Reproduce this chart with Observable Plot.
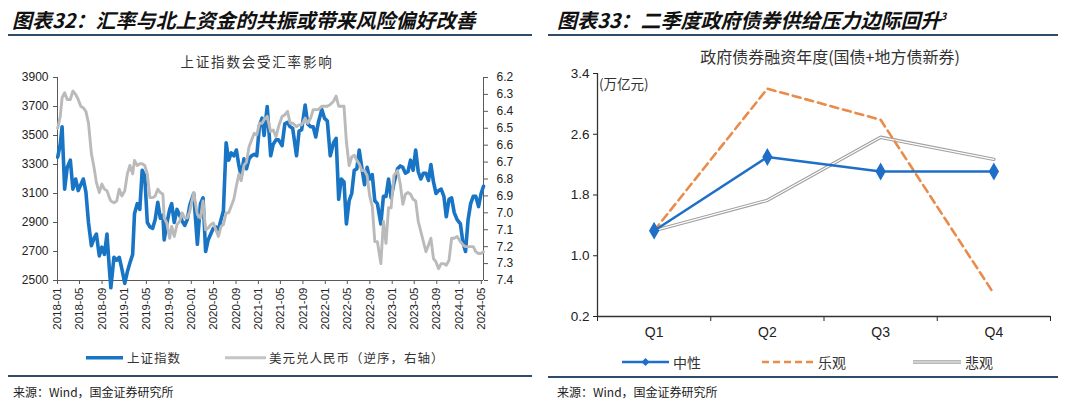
<!DOCTYPE html>
<html><head><meta charset="utf-8">
<script src="https://cdn.jsdelivr.net/npm/d3@7"></script>
<script src="https://cdn.jsdelivr.net/npm/@observablehq/plot@0.6"></script>
<style>
html,body{margin:0;padding:0;background:#fff;}
body{width:1080px;height:405px;position:relative;overflow:hidden;font-family:"Noto Sans CJK SC","Noto Sans",sans-serif;color:#222;}
.abs{position:absolute;white-space:nowrap;line-height:1;}
.title{font-size:20px;font-weight:700;font-style:italic;color:#111;transform:translateY(-50%);}
.rule{position:absolute;height:1.6px;background:#2e4b67;}
.sub{transform:translate(-50%,-50%);color:#333;}
.leg{font-size:12.5px;color:#333;transform:translateY(-50%);display:flex;align-items:center;}
.src{font-size:12px;color:#222;transform:translateY(-50%);}
</style></head><body>

<div class="abs title" style="left:12px;top:20px;">图表32：汇率与北上资金的共振或带来风险偏好改善</div>
<div class="rule" style="left:8px;top:34px;width:524px;"></div>
<div class="abs sub" style="left:257px;top:62px;font-size:13.5px;letter-spacing:1.8px;">上证指数会受汇率影响</div>

<div class="abs title" style="left:557px;top:20px;">图表33：二季度政府债券供给压力边际回升<sup style="font-size:10px;">3</sup></div>
<div class="rule" style="left:548px;top:34px;width:510px;"></div>
<div class="abs sub" style="left:830px;top:56px;font-size:16px;">政府债券融资年度(国债+地方债新券)</div>

<div id="c1"></div>
<div id="c2"></div>

<div class="abs" style="left:599px;top:84px;font-size:13.5px;color:#333;transform:translateY(-50%);">(万亿元)</div>

<div class="abs leg" style="left:86px;top:358px;">
  <svg width="38" height="6"><line x1="0" y1="3" x2="37" y2="3" stroke="#1874c4" stroke-width="3.4"/></svg>
  <span style="margin-left:3px;letter-spacing:1px;">上证指数</span>
</div>
<div class="abs leg" style="left:225px;top:358px;">
  <svg width="42" height="6"><line x1="0" y1="3" x2="41" y2="3" stroke="#c4c4c4" stroke-width="2.8"/></svg>
  <span style="margin-left:2px;letter-spacing:1px;">美元兑人民币（逆序，右轴）</span>
</div>

<div class="abs leg" style="left:622px;top:362px;font-size:14px;">
  <svg width="48" height="10"><line x1="0" y1="5" x2="47" y2="5" stroke="#1f6fc8" stroke-width="2.5"/><path d="M23.5,1 L27.5,5 L23.5,9 L19.5,5 Z" fill="#1f6fc8"/></svg>
  <span style="margin-left:3px;">中性</span>
</div>
<div class="abs leg" style="left:762px;top:362px;font-size:14px;">
  <svg width="54" height="10"><line x1="0" y1="5" x2="53" y2="5" stroke="#e98b4a" stroke-width="2.5" stroke-dasharray="7,4"/></svg>
  <span style="margin-left:2px;">乐观</span>
</div>
<div class="abs leg" style="left:913px;top:362px;font-size:14px;">
  <svg width="49" height="10"><line x1="0" y1="5" x2="48" y2="5" stroke="#a0a0a0" stroke-width="3.4"/><line x1="0" y1="5" x2="48" y2="5" stroke="#fff" stroke-width="1.2"/></svg>
  <span style="margin-left:3px;">悲观</span>
</div>

<div class="rule" style="left:8px;top:375px;width:524px;"></div>
<div class="rule" style="left:548px;top:376px;width:510px;"></div>
<div class="abs src" style="left:13px;top:392px;">来源：Wind，国金证券研究所</div>
<div class="abs src" style="left:557px;top:392px;">来源：Wind，国金证券研究所</div>

<script>
// ---------- Left chart data: 上证指数 vs 美元兑人民币 ----------
const dates = [
"2018-01-02","2018-01-16","2018-01-26","2018-02-09","2018-02-23","2018-03-12","2018-03-26","2018-04-10","2018-04-24","2018-05-08","2018-05-22","2018-06-05","2018-06-19","2018-07-05","2018-07-19","2018-08-01","2018-08-17","2018-08-31","2018-09-14","2018-09-28","2018-10-11","2018-10-19","2018-11-05","2018-11-20","2018-12-04","2018-12-18",
"2019-01-03","2019-01-17","2019-01-31","2019-02-15","2019-02-25","2019-03-12","2019-03-26","2019-04-08","2019-04-22","2019-05-06","2019-05-20","2019-06-04","2019-06-18","2019-07-02","2019-07-16","2019-07-30","2019-08-06","2019-08-20","2019-09-05","2019-09-16","2019-09-30","2019-10-15","2019-10-29","2019-11-12","2019-11-26","2019-12-10","2019-12-24",
"2020-01-14","2020-02-03","2020-02-20","2020-03-05","2020-03-19","2020-04-02","2020-04-16","2020-04-30","2020-05-14","2020-05-28","2020-06-11","2020-06-24","2020-07-09","2020-07-23","2020-08-06","2020-08-20","2020-09-03","2020-09-17","2020-09-29","2020-10-14","2020-10-28","2020-11-11","2020-11-25","2020-12-09","2020-12-23",
"2021-01-07","2021-01-21","2021-02-01","2021-02-18","2021-03-09","2021-03-23","2021-04-07","2021-04-21","2021-05-10","2021-05-25","2021-06-09","2021-06-23","2021-07-07","2021-07-28","2021-08-11","2021-08-25","2021-09-13","2021-09-27","2021-10-13","2021-10-27","2021-11-10","2021-11-24","2021-12-13","2021-12-27",
"2022-01-12","2022-01-28","2022-02-15","2022-03-01","2022-03-15","2022-03-29","2022-04-13","2022-04-26","2022-05-11","2022-05-25","2022-06-08","2022-06-22","2022-07-05","2022-07-19","2022-08-03","2022-08-17","2022-08-31","2022-09-14","2022-09-28","2022-10-12","2022-10-31","2022-11-14","2022-11-28","2022-12-12","2022-12-26",
"2023-01-10","2023-01-30","2023-02-14","2023-02-28","2023-03-14","2023-03-28","2023-04-11","2023-04-25","2023-05-09","2023-05-23","2023-06-06","2023-06-20","2023-07-04","2023-07-18","2023-07-31","2023-08-14","2023-08-28","2023-09-11","2023-09-25","2023-10-10","2023-10-23","2023-11-07","2023-11-21","2023-12-05","2023-12-21",
"2024-01-08","2024-01-22","2024-02-05","2024-02-19","2024-03-04","2024-03-18","2024-04-01","2024-04-16","2024-04-30","2024-05-13"
];
const sse = [
3350,3440,3560,3130,3280,3330,3130,3200,3120,3160,3200,3110,2900,2740,2790,2820,2670,2730,2680,2820,2580,2450,2660,2640,2660,2580,
2480,2560,2620,2680,2960,3030,2990,3260,3220,2900,2870,2860,2920,3040,2930,2950,2780,2890,2990,3030,2900,2990,2950,2910,2880,2920,3020,
3100,2750,3030,3070,2700,2780,2820,2860,2870,2850,2920,2980,3450,3330,3380,3360,3400,3290,3220,3340,3270,3340,3360,3370,3360,
3570,3620,3500,3700,3360,3440,3470,3470,3430,3580,3590,3560,3550,3360,3530,3540,3710,3580,3560,3560,3490,3590,3680,3620,
3600,3360,3450,3480,3060,3200,3180,2890,3050,3100,3260,3270,3400,3280,3160,3280,3200,3230,3050,3030,2890,3080,3080,3200,3070,
3170,3270,3290,3280,3240,3250,3330,3260,3400,3250,3200,3240,3240,3190,3300,3180,3100,3120,3130,3080,2940,3060,3070,2970,2920,
2890,2760,2700,2920,3030,3080,3080,3010,3100,3150
];
const usdcny = [
6.50,6.43,6.32,6.29,6.33,6.33,6.28,6.30,6.33,6.37,6.38,6.40,6.47,6.65,6.73,6.82,6.88,6.83,6.86,6.87,6.91,6.93,6.94,6.93,6.86,6.90,
6.87,6.77,6.72,6.77,6.69,6.72,6.71,6.71,6.72,6.77,6.91,6.91,6.90,6.86,6.88,6.89,7.03,7.06,7.15,7.08,7.14,7.07,7.05,7.00,7.03,7.03,6.99,
6.88,7.01,7.03,6.93,7.10,7.09,7.07,7.06,7.10,7.14,7.08,7.07,7.00,7.00,6.96,6.92,6.84,6.77,6.81,6.72,6.70,6.61,6.57,6.53,6.54,
6.47,6.47,6.45,6.43,6.52,6.51,6.55,6.49,6.43,6.42,6.40,6.47,6.47,6.49,6.48,6.48,6.44,6.47,6.44,6.39,6.39,6.39,6.37,6.37,
6.37,6.36,6.34,6.31,6.37,6.37,6.37,6.58,6.72,6.67,6.66,6.69,6.71,6.75,6.75,6.78,6.90,6.96,7.17,7.17,7.30,7.05,7.18,6.97,6.97,
6.78,6.75,6.83,6.95,6.89,6.88,6.89,6.92,6.93,7.05,7.11,7.17,7.23,7.19,7.15,7.27,7.29,7.33,7.30,7.30,7.31,7.28,7.15,7.15,7.14,
7.17,7.19,7.20,7.20,7.20,7.20,7.23,7.24,7.24,7.23
];
const xTickLabels = ["2018-01","2018-05","2018-09","2019-01","2019-05","2019-09","2020-01","2020-05","2020-09","2021-01","2021-05","2021-09","2022-01","2022-05","2022-09","2023-01","2023-05","2023-09","2024-01","2024-05"];
const leftTicks = [2500,2700,2900,3100,3300,3500,3700,3900];
const rightTicks = [6.2,6.3,6.4,6.5,6.6,6.7,6.8,6.9,7.0,7.1,7.2,7.3,7.4];

// ---------- Right chart data: 政府债券融资 ----------
const quarters = ["Q1","Q2","Q3","Q4"];
const neutral = [1.33, 2.30, 2.11, 2.11];
const optimistic = [1.33, 3.20, 2.79, 0.50];
const pessimistic = [1.33, 1.73, 2.56, 2.27];
const bondTicks = [0.2, 1.0, 1.8, 2.6, 3.4];

// secondary (reversed) axis mapping onto the primary y scale
const toLeft = v => 3900 - (v - 6.2) * 1400 / 1.2;
const fromLeft = y => 6.2 + (3900 - y) * 1.2 / 1400;

const rows = dates.map((d, i) => ({date: new Date(d), sse: sse[i], cny: usdcny[i]}));
const x0 = new Date("2018-01-01"), x1 = new Date("2024-05-13");

const chart1 = Plot.plot({
  width: 540, height: 285,
  marginLeft: 57, marginRight: 57, marginTop: 12, marginBottom: 70,
  x: {type: "utc", domain: [x0, x1]},
  y: {domain: [2500, 3900]},
  style: {fontFamily: "'Liberation Sans', Arial, sans-serif", fontSize: "12px", color: "#222", background: "transparent"},
  marks: [
    Plot.axisY({ticks: leftTicks, anchor: "left", tickSize: 4, tickPadding: 5, tickFormat: d => String(d), label: null, stroke: "#595959"}),
    Plot.axisY({ticks: rightTicks.map(toLeft), anchor: "right", tickSize: 4, tickPadding: 9, tickFormat: v => fromLeft(v).toFixed(1), label: null, stroke: "#595959"}),
    Plot.axisX({ticks: xTickLabels.map(s => new Date(s + "-01")), anchor: "bottom", tickSize: 4, tickPadding: 3, tickRotate: -90, tickFormat: d3.utcFormat("%Y-%m"), label: null, fontSize: 11.5, stroke: "#595959"}),
    Plot.ruleX([x0, x1], {stroke: "#595959"}),
    Plot.ruleY([2500], {stroke: "#595959"}),
    Plot.line(rows, {x: "date", y: "sse", stroke: "#1874c4", strokeWidth: 3.6}),
    Plot.line(rows, {x: "date", y: d => toLeft(d.cny), stroke: "#bababa", strokeWidth: 2.9})
  ]
});
chart1.style.left = "0px"; chart1.style.top = "65px"; chart1.style.position = "absolute";
document.getElementById("c1").appendChild(chart1);

const series = s => quarters.map((q, i) => ({pos: i + 0.5, q, v: s[i]}));
const neu = series(neutral), opt = series(optimistic), pes = series(pessimistic);

const chart2 = Plot.plot({
  width: 540, height: 285,
  marginLeft: 57, marginRight: 30, marginTop: 13, marginBottom: 29,
  x: {domain: [0, 4]},
  y: {domain: [0.2, 3.4]},
  style: {fontFamily: "'Liberation Sans', Arial, sans-serif", fontSize: "13.5px", color: "#222", background: "transparent"},
  marks: [
    Plot.axisY({ticks: bondTicks, tickSize: 4, tickPadding: 4, tickFormat: d => d.toFixed(1), label: null}),
    Plot.axisX({ticks: [0, 1, 2, 3, 4], tickSize: 5, tickFormat: () => "", label: null}),
    Plot.axisX({ticks: quarters.map((q, i) => i + 0.5), tickSize: 0, tickPadding: 11, tickFormat: v => quarters[Math.floor(v)], label: null, fontSize: 14}),
    Plot.ruleX([0], {stroke: "#333", strokeWidth: 1.3}),
    Plot.ruleY([0.2], {stroke: "#333", strokeWidth: 1.3}),
    Plot.line(pes, {x: "pos", y: "v", stroke: "#a0a0a0", strokeWidth: 3.4}),
    Plot.line(pes, {x: "pos", y: "v", stroke: "#ffffff", strokeWidth: 1.2}),
    Plot.line(opt, {x: "pos", y: "v", stroke: "#e98b4a", strokeWidth: 2.6, strokeDasharray: "8,5"}),
    Plot.line(neu, {x: "pos", y: "v", stroke: "#1f6fc8", strokeWidth: 2.5}),
    Plot.dot(neu, {x: "pos", y: "v", symbol: "diamond", r: 4.5, fill: "#1f6fc8", stroke: "#1f6fc8"})
  ]
});
chart2.style.left = "540px"; chart2.style.top = "60px"; chart2.style.position = "absolute";
document.getElementById("c2").appendChild(chart2);
</script>
</body></html>
